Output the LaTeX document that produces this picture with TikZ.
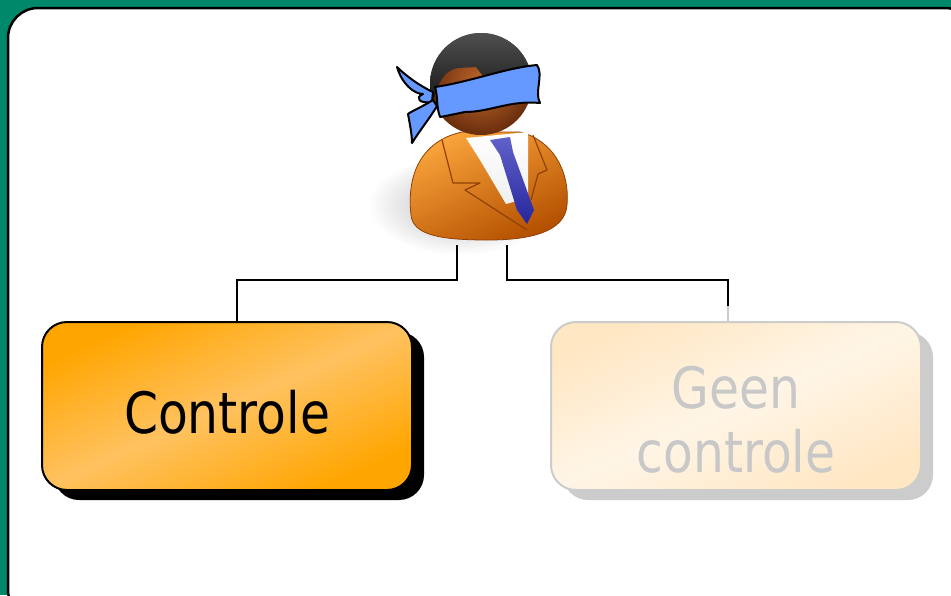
\documentclass[tikz,border=0pt]{standalone}
\usepackage{fontspec}
\setmainfont{DejaVu Sans Condensed}
\newfontfamily\boxfont[FakeStretch=0.95]{DejaVu Sans Condensed}
\usetikzlibrary{shadows,calc}
\definecolor{bggreen}{RGB}{0,136,106}
\definecolor{boxorange}{RGB}{255,165,0}
\definecolor{boxlight}{RGB}{255,194,96}
\definecolor{paleorange}{RGB}{255,231,196}
\definecolor{palelight}{RGB}{255,245,230}
\definecolor{palegrey}{RGB}{204,204,204}
\definecolor{textgrey}{RGB}{200,200,200}
\definecolor{bandblue}{RGB}{102,153,255}
\definecolor{tieblue}{RGB}{45,45,185}
\definecolor{suitlight}{RGB}{250,165,60}
\definecolor{suitmid}{RGB}{242,128,18}
\definecolor{suitdark}{RGB}{180,80,0}
\definecolor{suitline}{RGB}{145,65,5}
\definecolor{skinlight}{RGB}{195,105,45}
\definecolor{skindark}{RGB}{105,45,12}
\tikzset{
  choicebox/.style={rounded corners=25pt, minimum width=370pt, minimum height=168pt,
    line width=2pt, align=center, font=\boxfont\fontsize{57}{64}\selectfont},
  activebox/.style={choicebox, draw=black, text=black,
    top color=boxorange, bottom color=boxorange, middle color=boxlight, shading angle=24,
    general shadow={fill=black, shadow xshift=12pt, shadow yshift=-10pt}},
  idlebox/.style={choicebox, draw=palegrey, text=textgrey,
    top color=paleorange, bottom color=paleorange, middle color=palelight, shading angle=24,
    general shadow={fill=palegrey, shadow xshift=12pt, shadow yshift=-10pt}},
  link/.style={line width=2pt, black},
  outline/.style={draw=black, line width=2pt, line join=round},
}
\begin{document}
\begin{tikzpicture}[x=1pt,y=-1pt]
\useasboundingbox (0,0) rectangle (951,595);
% backdrop and panel
\fill[bggreen] (0,0) rectangle (951,595);
\draw[line width=2.5pt, fill=white, rounded corners=30pt] (8,8) rectangle (975,620);

% soft shadow under the figure
\shade[inner color=gray!55, outer color=white] (460,205) ellipse (92pt and 50pt);

% suit
\shade[left color=suitlight, middle color=suitmid, right color=suitdark, shading angle=25,
       draw=suitline, line width=0.8pt]
  (411,215) .. controls (406,170) and (425,140) .. (462,132) -- (520,132)
  .. controls (552,140) and (570,170) .. (567,205)
  .. controls (565,232) and (530,240) .. (488,240)
  .. controls (440,240) and (413,235) .. (411,215) -- cycle;
% shirt
\shade[top color=white, bottom color=gray!12] (466,138) -- (528,132) -- (528,198) -- (506,204) -- (480,160) -- cycle;
% tie
\shade[top color=tieblue!75!white, bottom color=tieblue!85!black]
  (490,140) -- (510,137) -- (513,152) -- (534,210) -- (527,224) -- (517,210) -- (500,155) -- cycle;
% lapels
\draw[suitline, line width=1.2pt, line join=round]
  (442,140) -- (453,183) -- (480,183) -- (465,190) -- (527,230);
\draw[suitline, line width=1.2pt, line join=round]
  (533,135) -- (547,170) -- (538,174) -- (531,200);

% head
\shade[inner color=skinlight, outer color=skindark] (481,84) circle (51pt);
\begin{scope}
  \clip (481,84) circle (51pt);
  \shade[top color=black!65, bottom color=black!90]
    (434,100) .. controls (438,80) and (446,70) .. (458,68) -- (476,67) -- (486,80)
    -- (545,80) -- (545,20) -- (420,20) -- (420,100) -- cycle;
\end{scope}

% blindfold knot ends
\filldraw[fill=bandblue, outline]
  (433,92) .. controls (420,86) and (406,76) .. (397,67)
  .. controls (402,84) and (414,94) .. (423,94)
  .. controls (414,98) and (420,104) .. (432,102) -- cycle;
\filldraw[fill=bandblue, outline]
  (433,100) .. controls (420,108) and (410,112) .. (408,114)
  .. controls (410,125) and (412,135) .. (412,143)
  .. controls (420,130) and (430,118) .. (437,106) -- cycle;
% blindfold band
\filldraw[fill=bandblue, outline]
  (435,87) .. controls (470,82) and (505,68) .. (537,65)
  .. controls (544,75) and (534,92) .. (540,103)
  .. controls (510,100) and (490,112) .. (465,112)
  .. controls (455,114) and (446,116) .. (440,117)
  .. controls (436,106) and (438,96) .. cycle;

% anchor points under the figure
\coordinate (pl) at (457,245);
\coordinate (pr) at (507,245);

% the two choices
\node[activebox] (ctrl) at (227,406) {\raisebox{-27pt}[0pt][0pt]{Controle}};
\node[idlebox] (none) at (736,406)
  {\raisebox{-66pt}[0pt][0pt]{\parbox[b]{300pt}{\centering Geen\\controle}}};

% connectors
\draw[link] (pl) -- ++(0,35) -| ([xshift=10pt]ctrl.north);
\coordinate (fade) at ([xshift=-8pt,yshift=15pt]none.north);
\draw[link] (pr) -- ++(0,35) -| (fade);
\draw[line width=2pt, palegrey] (fade) -- ([xshift=-8pt]none.north);
\end{tikzpicture}
\end{document}
